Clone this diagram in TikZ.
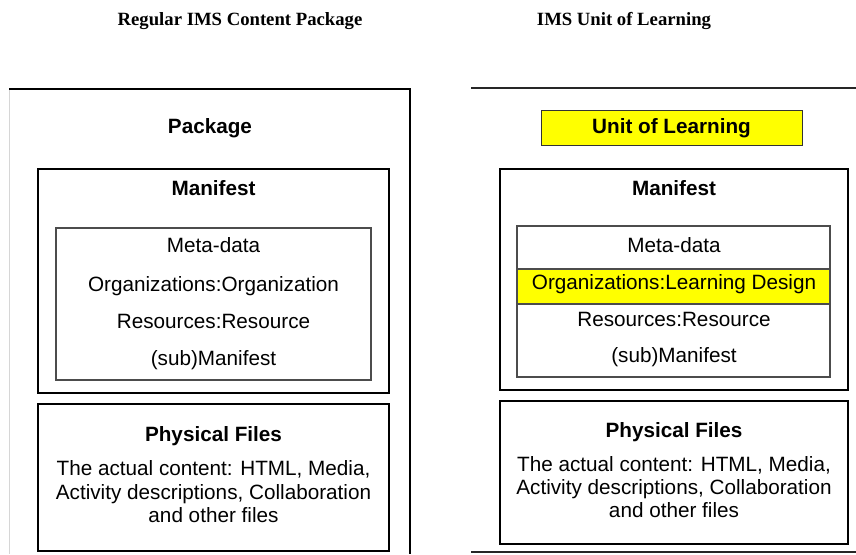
\documentclass[tikz,border=0pt]{standalone}
\usepackage{fontspec}
\setmainfont{Liberation Serif}
\setsansfont{Liberation Sans}
\definecolor{hilite}{HTML}{FFFF00}
\definecolor{rulegray}{HTML}{D6D6D6}
\begin{document}
\begin{tikzpicture}[x=1pt,y=-1pt,
  every node/.style={inner sep=0pt, outer sep=0pt},
  txt/.style={font=\fontsize{20.7}{24}\selectfont\sffamily, anchor=base},
  btxt/.style={font=\fontsize{20.7}{24}\selectfont\sffamily\bfseries, anchor=base},
  head/.style={font=\fontsize{18.7}{22}\selectfont\rmfamily\bfseries, anchor=base},
  box/.style={draw=black, line width=1.8pt, anchor=north west},
  listbox/.style={draw=black!70, line width=1.1pt, anchor=north west},
  markbox/.style={draw=black!80, line width=1pt, fill=hilite, anchor=north west},
  rule/.style={draw=black!85, line width=1.2pt}]
\useasboundingbox (0,0) rectangle (856,554);

% column headings
\node[head] (hleft) at (240,25) {Regular IMS Content Package};
\node[head] (hright) at (624,25) {IMS Unit of Learning};

% ---------- regular content package ----------
\coordinate (pbl) at (9,554);
\coordinate (ptl) at (9,89);
\coordinate (ptr) at (410,89);
\coordinate (pbr) at (410,554);
\draw[rulegray, line width=1pt] (pbl) -- (ptl);
\draw[rule, draw=black] (ptl) -- (ptr) -- (pbr);
\node[btxt] (pkg) at (210,133) {Package};

\node[box, minimum width=351pt, minimum height=224pt] (lman) at (38,169) {};
\node[btxt] (lmant) at (213.5,195) {Manifest};
\node[listbox, minimum width=315pt, minimum height=152pt] (llist) at (56,228) {};
\node[txt] (lmeta) at (213.5,252) {Meta-data};
\node[txt] (lorg) at (213.5,291) {Organizations:Organization};
\node[txt] (lres) at (213.5,328) {Resources:Resource};
\node[txt] (lsub) at (213.5,365) {(sub)Manifest};

\node[box, minimum width=351pt, minimum height=147pt] (lfiles) at (38,404) {};
\node[btxt] (lfilest) at (213.5,441) {Physical Files};
\node[txt] (lf1) at (213.5,475) {The actual content: HTML, Media,};
\node[txt] (lf2) at (213.5,499) {Activity descriptions, Collaboration};
\node[txt] (lf3) at (213.5,522) {and other files};

% ---------- unit of learning ----------
\coordinate (utl) at (471,88);
\coordinate (utr) at (856,88);
\coordinate (ubl) at (471,552);
\coordinate (ubr) at (856,552);
\draw[rule] (utl) -- (utr);
\draw[rule] (ubl) -- (ubr);

\node[markbox, minimum width=261pt, minimum height=35pt] (uol) at (541,110) {};
\node[btxt] (uolt) at (671.5,133) {Unit of Learning};

\node[box, minimum width=348pt, minimum height=221pt] (rman) at (500,169) {};
\node[btxt] (rmant) at (674,195) {Manifest};
\node[listbox, minimum width=313pt, minimum height=151pt] (rlist) at (517,226) {};
\node[markbox, draw=black!70, line width=1.1pt, minimum width=313pt, minimum height=35pt] (rorgbox) at (517,269) {};
\node[txt] (rmeta) at (674,252) {Meta-data};
\node[txt] (rorg) at (674,289) {Organizations:Learning Design};
\node[txt] (rres) at (674,326) {Resources:Resource};
\node[txt] (rsub) at (674,362) {(sub)Manifest};

\node[box, minimum width=348pt, minimum height=143pt] (rfiles) at (500,401) {};
\node[btxt] (rfilest) at (674,437) {Physical Files};
\node[txt] (rf1) at (674,471) {The actual content: HTML, Media,};
\node[txt] (rf2) at (674,494) {Activity descriptions, Collaboration};
\node[txt] (rf3) at (674,517) {and other files};
\end{tikzpicture}
\end{document}
